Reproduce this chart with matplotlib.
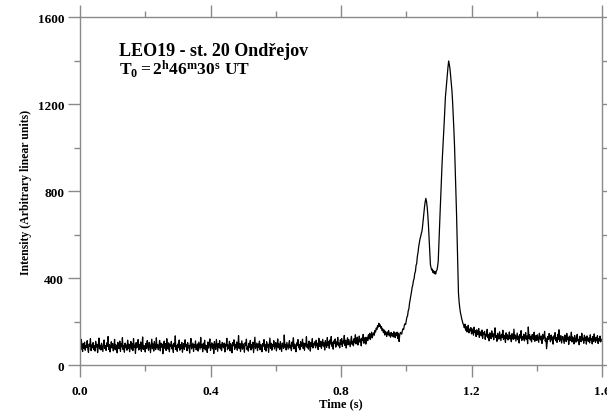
import numpy as np
import matplotlib
matplotlib.use("Agg")
import matplotlib.pyplot as plt
from matplotlib.ticker import MultipleLocator

# --- DATA (one sample every 2 ms) ---
T_STEP = 0.002
intensity = [
    95, 70, 118, 84, 62, 99, 77, 105, 68, 90, 81, 112, 73, 58, 96, 87, 121, 66, 92, 79,
    103, 71, 88, 64, 109, 83, 95, 57, 86, 124, 74, 91, 69, 100, 80, 62, 97, 115, 76, 89,
    67, 102, 85, 131, 72, 94, 60, 88, 107, 78, 99, 65, 83, 118, 70, 93, 81, 56, 104, 86,
    75, 110, 63, 97, 84, 126, 71, 89, 59, 101, 80, 92, 68, 114, 77, 96, 61, 87, 108, 73,
    98, 66, 121, 82, 91, 54, 103, 79, 88, 117, 69, 95, 74, 106, 63, 85, 129, 72, 90, 81,
    60, 99, 76, 112, 87, 68, 104, 93, 57, 86, 119, 75, 97, 64, 108, 82, 71, 125, 79, 94,
    70, 88, 113, 65, 101, 83, 96, 52, 90, 110, 77, 98, 67, 121, 84, 73, 102, 61, 94, 87,
    109, 74, 92, 58, 100, 85, 134, 71, 89, 63, 97, 80, 115, 68, 93, 76, 104, 59, 87, 99,
    72, 116, 84, 95, 66, 103, 79, 90, 55, 98, 122, 74, 87, 101, 62, 94, 81, 111, 70, 85,
    97, 64, 105, 88, 73, 127, 80, 93, 61, 100, 76, 114, 69, 91, 83, 58, 106, 78, 95, 120,
    67, 89, 102, 75, 96, 53, 108, 84, 71, 118, 90, 63, 99, 81, 112, 74, 93, 66, 104, 86,
    79, 101, 60, 95, 87, 123, 70, 92, 77, 109, 65, 98, 83, 56, 103, 89, 116, 72, 94, 80,
    106, 68, 91, 135, 76, 99, 62, 88, 111, 73, 97, 84, 59, 102, 90, 119, 71, 86, 64, 100,
    82, 113, 69, 94, 78, 105, 57, 92, 128, 75, 88, 101, 66, 97, 81, 110, 70, 95, 85, 61,
    99, 87, 117, 72, 93, 64, 107, 83, 96, 58, 90, 124, 77, 100, 68, 94, 86, 112, 74, 91,
    103, 65, 89, 120, 79, 97, 71, 108, 84, 62, 101, 93, 76, 138, 82, 95, 69, 104, 88, 73,
    98, 112, 78, 91, 66, 106, 87, 125, 74, 96, 83, 61, 102, 90, 117, 79, 94, 70, 108, 85,
    92, 119, 76, 101, 68, 97, 88, 130, 81, 95, 73, 110, 90, 64, 104, 86, 121, 78, 99, 92,
    107, 79, 114, 88, 100, 71, 123, 93, 84, 109, 76, 98, 118, 87, 102, 69, 112, 95, 81, 126,
    90, 108, 77, 115, 97, 131, 86, 104, 73, 111, 99, 120, 82, 106, 94, 127, 88, 101, 79, 116,
    96, 122, 85, 110, 101, 136, 90, 114, 78, 107, 125, 93, 117, 99, 84, 112, 132, 95, 109, 88,
    121, 103, 139, 97, 116, 128, 92, 110, 133, 105, 119, 88, 124, 112, 141, 100, 118, 127, 96, 114,
    128, 112, 139, 121, 146, 117, 133, 151, 125, 142, 148, 137, 159, 152, 170, 163, 181, 174, 192, 178,
    185, 169, 176, 158, 166, 149, 161, 138, 155, 146, 131, 152, 140, 158, 134, 147, 128, 150, 137, 144,
    129, 153, 141, 126, 148, 135, 151, 122, 146, 108, 138, 150, 145, 142, 158, 167, 163, 182, 190, 186,
    204, 221, 226, 249, 258, 284, 303, 319, 336, 357, 368, 388, 397, 421, 429, 458, 467, 500, 516, 543,
    562, 579, 590, 604, 615, 638, 668, 699, 728, 751, 766, 752, 728, 690, 642, 585, 520, 462, 447, 436,
    441, 425, 433, 420, 429, 418, 431, 437, 452, 478, 560, 640, 712, 790, 862, 935, 990, 1042, 1108, 1170,
    1232, 1268, 1305, 1338, 1372, 1398, 1381, 1362, 1330, 1298, 1262, 1210, 1148, 1080, 1005, 905, 790, 700, 575, 445,
    330, 290, 262, 241, 228, 212, 201, 190, 182, 171, 188, 160, 176, 152, 169, 183, 148, 165, 157, 172,
    143, 166, 151, 137, 174, 149, 158, 131, 162, 145, 139, 168, 127, 153, 146, 134, 161, 122, 148, 140,
    155, 118, 142, 133, 164, 125, 139, 111, 148, 136, 121, 157, 130, 144, 116, 138, 171, 127, 135, 109,
    146, 128, 119, 153, 134, 112, 141, 126, 160, 117, 137, 129, 104, 148, 123, 139, 115, 131, 152, 120,
    135, 107, 144, 126, 118, 165, 121, 138, 110, 129, 147, 116, 133, 101, 140, 124, 158, 113, 130, 119,
    142, 111, 127, 149, 118, 133, 98, 175, 122, 140, 115, 131, 106, 140, 125, 117, 151, 109, 128, 136,
    113, 139, 121, 104, 146, 126, 115, 133, 99, 141, 119, 128, 155, 110, 124, 75, 103, 131, 118, 145,
    122, 107, 138, 115, 129, 96, 134, 120, 149, 112, 126, 104, 141, 118, 162, 109, 127, 135, 101, 123,
    131, 114, 99, 138, 120, 108, 145, 117, 126, 95, 133, 112, 122, 151, 106, 129, 116, 97, 136, 119,
    105, 127, 141, 110, 118, 93, 132, 121, 107, 146, 115, 124, 100, 137, 113, 128, 96, 134, 117, 109,
    125, 102, 139, 114, 120, 97, 131, 108, 143, 116, 104, 127, 112, 135, 99, 121, 110, 133, 106, 118,
]
time_s = np.arange(len(intensity)) * T_STEP

TITLE_1 = "LEO19 - st. 20 Ondřejov"
TITLE_2 = r"$\mathrm{T_0 = 2^h46^m30^s\ UT}$"

# --- STYLE ---
plt.rcParams["font.family"] = ["Liberation Serif", "DejaVu Serif"]
plt.rcParams["font.weight"] = "bold"
plt.rcParams["mathtext.fontset"] = "custom"
plt.rcParams["mathtext.rm"] = "Liberation Serif:bold"
plt.rcParams["mathtext.it"] = "Liberation Serif:bold"
plt.rcParams["mathtext.bf"] = "Liberation Serif:bold"

AXIS_GREY = "#8a8a8a"

fig = plt.figure(figsize=(6.07, 4.14), dpi=100)
ax = fig.add_axes([0.1318, 0.1159, 0.86, 0.8406])

ax.plot(time_s, intensity, color="black", lw=0.9)

ax.set_xlim(0, 1.6)
ax.set_ylim(0, 1600)
ax.xaxis.set_major_locator(MultipleLocator(0.4))
ax.xaxis.set_minor_locator(MultipleLocator(0.2))
ax.yaxis.set_major_locator(MultipleLocator(400))
ax.yaxis.set_minor_locator(MultipleLocator(200))
ax.xaxis.set_major_formatter(plt.FuncFormatter(lambda v, p: f"{v:.1f}"))

for s in ax.spines.values():
    s.set_color(AXIS_GREY)
    s.set_linewidth(1.0)

ax.tick_params(which="both", direction="out", color=AXIS_GREY, width=1.0,
               top=True, right=True, labelsize=9.5)
ax.tick_params(which="major", length=8.4)
ax.tick_params(which="minor", length=4.3)
ax.tick_params(axis="x", which="major", pad=6)
ax.tick_params(axis="y", which="major", pad=3)

ax.set_xlabel("Time (s)", fontsize=9, fontweight="bold", labelpad=0)
ax.set_ylabel("Intensity (Arbitrary linear units)", fontsize=8.5, fontweight="bold", labelpad=4)

ax.text(0.075, 0.891, TITLE_1, transform=ax.transAxes, fontsize=13, fontweight="bold")
ax.text(0.075, 0.836, TITLE_2, transform=ax.transAxes, fontsize=12.5)

fig.savefig("out.png", dpi=100)
